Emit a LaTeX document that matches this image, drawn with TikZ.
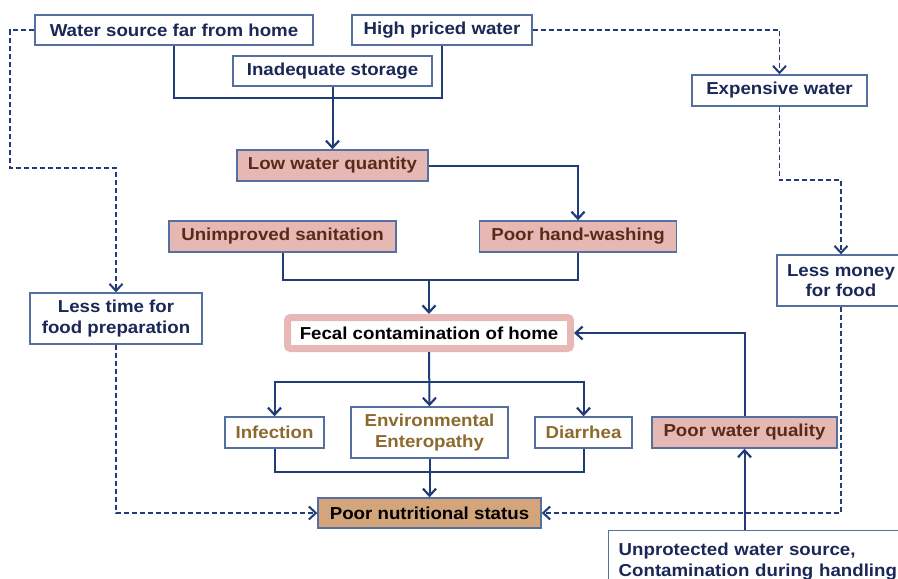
\documentclass[tikz,border=0pt]{standalone}
\usepackage{fontspec}
\setmainfont{Liberation Sans}[FakeStretch=1.08]
\usetikzlibrary{arrows.meta}
\definecolor{navy}{HTML}{1A2858}
\definecolor{linecol}{HTML}{223C78}
\definecolor{boxborder}{HTML}{5570A0}
\definecolor{pinkfill}{HTML}{E6B8B4}
\definecolor{brownt}{HTML}{5A2A18}
\definecolor{goldt}{HTML}{8C6A2C}
\definecolor{tanfill}{HTML}{D4A57A}
\definecolor{fecalpink}{HTML}{E8B8B6}
\tikzset{
  every node/.style={font=\bfseries\fontsize{17.3}{20.5}\selectfont},
  wbox/.style={draw=boxborder, line width=1.4pt, fill=white, text=navy, inner sep=0pt, align=center},
  pbox/.style={draw=boxborder, line width=1.4pt, fill=pinkfill, text=brownt, inner sep=0pt, align=center},
  gbox/.style={draw=boxborder, line width=1.4pt, fill=white, text=goldt, inner sep=0pt, align=center},
  conn/.style={draw=linecol, line width=2pt},
  arr/.style={conn, -{Straight Barb[length=7pt,width=13pt,line width=2.2pt]}},
  dconn/.style={draw=linecol, line width=1.5pt, dash pattern=on 5pt off 3pt},
  darr/.style={dconn, -{Straight Barb[length=7pt,width=13pt,line width=2pt]}}
}
\begin{document}
\begin{tikzpicture}[x=1pt,y=-1pt]
\useasboundingbox (0,0) rectangle (898,579);
\fill[white] (0,0) rectangle (898,579);
% nodes
\node[wbox, minimum width=278pt, minimum height=30pt] (ws) at (174,30) {Water source far from home};
\node[wbox, minimum width=180pt, minimum height=30pt] (hp) at (442,30) {High priced water};
\node[wbox, minimum width=199pt, minimum height=30pt] (ist) at (332.5,71) {Inadequate storage};
\node[pbox, minimum width=191pt, minimum height=31pt] (lwq) at (332.5,165.5) {Low water quantity};
\node[pbox, minimum width=227pt, minimum height=31pt] (us) at (282.5,236.5) {Unimproved sanitation};
\node[pbox, minimum width=197pt, minimum height=31pt] (phw) at (578,236.5) {Poor hand-washing};
\node[draw=fecalpink, line width=7pt, rounded corners=3pt, fill=white, text=black, inner sep=0pt,
      minimum width=283pt, minimum height=31pt] (fc) at (429,333) {Fecal contamination of home};
\node[gbox, minimum width=99pt, minimum height=31pt] (inf) at (274.5,432.5) {Infection};
\node[gbox, minimum width=157pt, minimum height=51pt] (ee) at (429.5,432.5) {Environmental\\Enteropathy};
\node[gbox, minimum width=97pt, minimum height=31pt] (dia) at (583.5,432.5) {Diarrhea};
\node[draw=boxborder, line width=1.4pt, fill=tanfill, text=black, inner sep=0pt,
      minimum width=223pt, minimum height=30pt] (pns) at (429.5,513) {Poor nutritional status};
\node[pbox, minimum width=185pt, minimum height=31pt] (pwq) at (744.5,432.5) {Poor water quality};
\node[wbox, anchor=north west, text width=300pt, align=left, inner xsep=10pt, inner ysep=0pt,
      minimum height=62pt] (up) at (608,530) {Unprotected water source,\\[1pt]Contamination during handling};
\node[wbox, minimum width=175pt, minimum height=31pt] (em) at (779.5,90.5) {Expensive water};
\node[wbox, minimum width=128pt, minimum height=51pt] (lm) at (841,280.5) {Less money\\for food};
\node[wbox, minimum width=172pt, minimum height=51pt] (lt) at (116,318.5) {Less time for\\food preparation};
% junction coordinates
\coordinate (j1) at (332.5,98);
\coordinate (j2) at (429,280);
\coordinate (j3) at (429,382);
\coordinate (j4) at (810,180);
\coordinate (j5) at (10,168);
\coordinate (j6) at (429,472);
% solid connectors
\draw[conn] (ws.south) |- (j1) -| (hp.south);
\draw[arr] (ist.south) -- (lwq.north);
\draw[arr] (lwq.east) -| (phw.north);
\draw[conn] (us.south) |- (j2) -| (phw.south);
\draw[arr] (j2) -- (fc.north);
\draw[arr] (pwq.north) |- (fc.east);
\draw[arr] (fc.south) -- (ee.north);
\draw[arr] (j3) -| (inf.north);
\draw[arr] (j3) -| (dia.north);
\draw[conn] (inf.south) |- (j6) -| (dia.south);
\draw[arr] (ee.south) -- (pns.north);
\draw[arr] (pwq.south |- up.north) -- (pwq.south);
% dashed connectors
\draw[darr] (hp.east) -| (em.north);
\draw[darr] (em.south) |- (j4) -| (lm.north);
\draw[darr] (lm.south) |- (pns.east);
\draw[darr] (ws.west) -| (j5) -| (lt.north);
\draw[darr] (lt.south) |- (pns.west);
\end{tikzpicture}
\end{document}
